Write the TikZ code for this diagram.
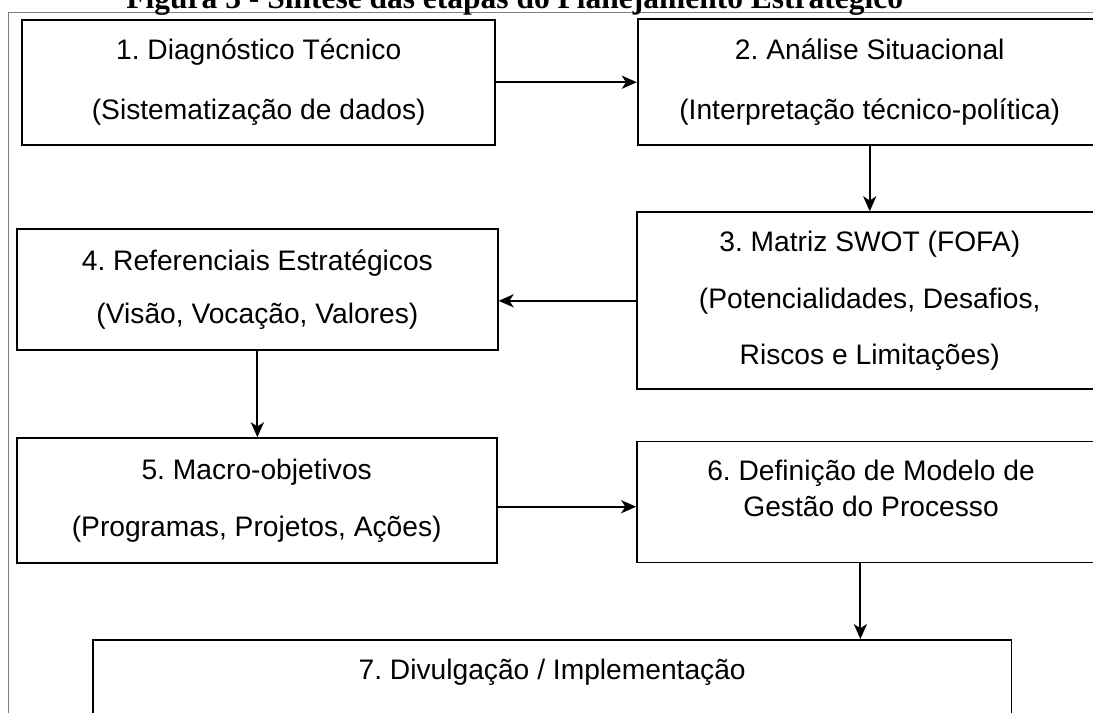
\documentclass[tikz,border=0pt]{standalone}
\usepackage{fontspec}
\setmainfont{Liberation Sans}
\newfontfamily\titlefont{Liberation Serif}
\usetikzlibrary{arrows.meta}
\frenchspacing

\tikzset{
  etapa/.style={draw, line width=0.8pt, align=center, inner sep=0pt, font=\fontsize{12}{24}\selectfont},
  seta/.style={-{Stealth[length=6.4pt,width=5.6pt,inset=1.8pt]}, line width=0.8pt},
}

\begin{document}
\begin{tikzpicture}
            \useasboundingbox (0,0) rectangle (16.35,-10.66);
            \clip (0,0) rectangle (16.35,-10.66);
            \draw[gray, line width=0.5pt] (0.13,-11) |- (17,-0.19);
            \node[anchor=base, font=\titlefont\fontsize{13.4}{16}\selectfont\bfseries] (titulo) at (7.70,-0.13) {Figura 3 - Síntese das etapas do Planejamento Estratégico};
            \node[etapa, minimum width=7.07cm, minimum height=1.87cm] (diagnostico) at (3.87,-1.23) {1. Diagnóstico Técnico\\[1.5pt](Sistematização de dados)};
            \node[etapa, minimum width=6.94cm, minimum height=1.88cm] (analise) at (13.01,-1.23) {2. Análise Situacional\\[1.5pt](Interpretação técnico-política)};
            \node[etapa, minimum width=6.97cm, minimum height=2.65cm] (swot) at (13.01,-4.50) {3. Matriz SWOT (FOFA)\\(Potencialidades, Desafios,\\Riscos e Limitações)};
            \node[etapa, minimum width=7.19cm, minimum height=1.82cm] (referenciais) at (3.85,-4.33) {4. Referenciais Estratégicos\\[-1.4pt](Visão, Vocação, Valores)};
            \node[etapa, minimum width=7.18cm, minimum height=1.87cm] (macro) at (3.84,-7.49) {5. Macro-objetivos\\(Programas, Projetos, Ações)};
            \node[etapa, minimum width=7.00cm, minimum height=1.81cm, font=\fontsize{12}{15.3}\selectfont, text depth=0.41cm] (modelo) at (13.03,-7.51) {6. Definição de Modelo de\\Gestão do Processo};
            \node[etapa, anchor=north, minimum width=13.74cm, text height=0.583cm, text depth=1cm] (divulgacao) at (8.26,-9.56) {7. Divulgação / Implementação};
            \draw[seta] (diagnostico.east) -- (analise.west);
            \draw[seta] (analise.south) -- (swot.north);
            \draw[seta] (swot.west) -- (swot.west -| referenciais.east);
            \draw[seta] (referenciais.south) -- (referenciais.south |- macro.north);
            \draw[seta] ([yshift=-0.09cm]macro.east) -- ([yshift=-0.09cm]macro.east -| modelo.west);
            \draw[seta] ([xshift=-0.16cm]modelo.south) -- ([xshift=-0.16cm]modelo.south |- divulgacao.north);
        \end{tikzpicture}
\end{document}
